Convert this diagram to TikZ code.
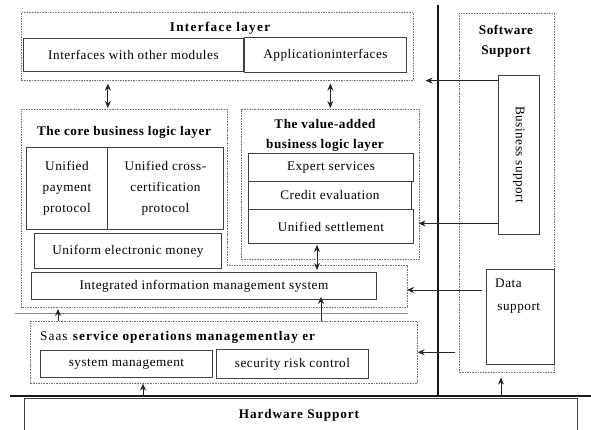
\documentclass[tikz,border=0pt]{standalone}
\usepackage{fontspec}
\setmainfont[LetterSpace=4]{Liberation Serif}
\usetikzlibrary{arrows.meta,calc}
\newcommand\txtfont{\fontsize{13.2}{21}\selectfont}
\newcommand\rectnode[7]{\node[#1, anchor=north west, minimum width={(#5-#3)*1pt}, minimum height={(#6-#4)*1pt}] (#2) at (#3,#4) {#7};}
\tikzset{
  box/.style={draw=black!75, line width=0.9pt, inner sep=1pt, align=center, font=\txtfont},
  dbox/.style={draw=black!55, line width=0.6pt, dash pattern=on 1.6pt off 1pt},
  ttl/.style={font=\txtfont\bfseries, align=center, inner sep=0pt},
  plain/.style={font=\txtfont, inner sep=0pt},
  arr/.style={-{Stealth[length=7pt,width=6pt]}, line width=0.9pt, draw=black!85},
  dbl/.style={{Stealth[length=7pt,width=6pt]}-{Stealth[length=7pt,width=6pt]}, line width=0.9pt, draw=black!85},
  heavy/.style={line width=1.8pt, draw=black!90}
}
\begin{document}
\begin{tikzpicture}[x=1pt,y=-1pt]
\useasboundingbox (0,0) rectangle (591,430);
\fill[white] (0,0) rectangle (591,430);

% interface layer
\rectnode{dbox}{iface}{21}{12}{413}{80}{}
\node[ttl] (ifacet) at (220,28) {\addfontfeatures{LetterSpace=10}Interface layer};
\rectnode{box}{imo}{23}{38}{243}{71}{Interfaces with other modules}
\rectnode{box}{api}{244}{37}{406}{72}{Applicationinterfaces}

% software support
\rectnode{dbox}{sw}{459}{13}{554}{372}{}
\node[ttl] (swt) at (506,41) {Software\\[-1pt]Support};
\rectnode{box}{bs}{498}{75}{539}{234}{}
\node[plain, rotate=-90] (bst) at (bs.center) {Business support};
\rectnode{box}{ds}{486}{269}{554}{364}{}
\node[plain, anchor=west, align=left] (dst) at (495,296) {Data\\[1.5pt]\,support};

% core business logic layer
\coordinate (cA) at (21,109);
\coordinate (cB) at (227,109);
\coordinate (cC) at (227,265);
\coordinate (cD) at (407,265);
\coordinate (cE) at (407,307);
\coordinate (cF) at (21,307);
\draw[dbox] (cA) -- (cB) -- (cC) -- (cD) -- (cE) -- (cF) -- cycle;
\node[ttl] (coret) at (124,132) {The core business logic layer};
\rectnode{box}{upp}{26}{147}{107}{229}{Unified\\payment\\protocol}
\rectnode{box}{ucc}{107}{147}{223}{229}{Unified cross-\\certification\\protocol}
\rectnode{box}{uem}{34}{233}{221}{268}{Uniform electronic money}
\rectnode{box}{ims}{31}{272}{376}{299}{Integrated information management system}

% value-added layer
\rectnode{dbox}{va}{241}{109}{419}{259}{}
\node[ttl] (vat) at (325,135) {The value-added\\[-1pt]business logic layer};
\rectnode{box}{es}{248}{153}{413}{181}{Expert services}
\rectnode{box}{ce}{248}{181}{411}{209}{Credit evaluation}
\rectnode{box}{us}{248}{209}{413}{243}{Unified settlement}

% thin separator
\coordinate (sepL) at (15,313);
\coordinate (sepR) at (408,313);
\draw[black!45, line width=0.6pt] (sepL) -- (sepR);

% saas layer
\rectnode{dbox}{saas}{30}{321}{417}{383}{}
\node[plain, anchor=west] (saast) at (40,337) {\addfontfeatures{LetterSpace=8}Saas \textbf{service operations managementlay er}};
\rectnode{box}{sm}{40}{350}{212}{377}{system management}
\rectnode{box}{src}{216}{349}{368}{378}{security risk control}

% hardware support
\rectnode{box}{hw}{24}{398}{577}{445}{}
\node[ttl] (hwt) at (299,415) {\addfontfeatures{LetterSpace=7}Hardware Support};

% heavy lines
\coordinate (vT) at (438,5);
\coordinate (vB) at (438,396);
\coordinate (hL) at (10,396);
\coordinate (hR) at (591,396);
\draw[heavy] (vT) -- (vB);
\draw[heavy] (hL) -- (hR);

% connectors
\coordinate (xa) at (58,0);
\coordinate (xb) at (321,0);
\coordinate (xc) at (317,0);
\coordinate (xh1) at (143,0);
\coordinate (xh2) at (501,0);
\draw[dbl, shorten <=3pt, shorten >=1pt] (iface.south -| upp.east) -- (cA -| upp.east);
\draw[dbl, shorten <=3pt, shorten >=1pt] (iface.south -| va.north) -- (va.north);
\draw[arr, shorten >=12pt] (bs.west |- iface.south) -- (iface.south east);
\draw[arr, shorten >=-1pt] ($(bs.west |- us.east)+(0,-3)$) -- ($(va.east |- us.east)+(0,-3)$);
\draw[dbl, shorten <=1pt, shorten >=2pt] (us.south -| xc) -- (ims.north -| xc);
\draw[arr, shorten <=4pt] ($(ds.west |- ims.east)+(0,4)$) -- ($(cD |- ims.east)+(0,4)$);
\draw[arr] ($(sw.west |- saas.east)+(-4,0)$) -- (saas.east);
\draw[arr, shorten >=2pt] (saas.north -| xa) -- (cF -| xa);
\draw[arr, shorten >=-3pt] (saas.north -| xb) -- (ims.south -| xb);
\draw[arr] (hL -| xh1) -- (saas.south -| xh1);
\draw[arr, shorten >=5pt] (hL -| xh2) -- (sw.south -| xh2);
\end{tikzpicture}
\end{document}
